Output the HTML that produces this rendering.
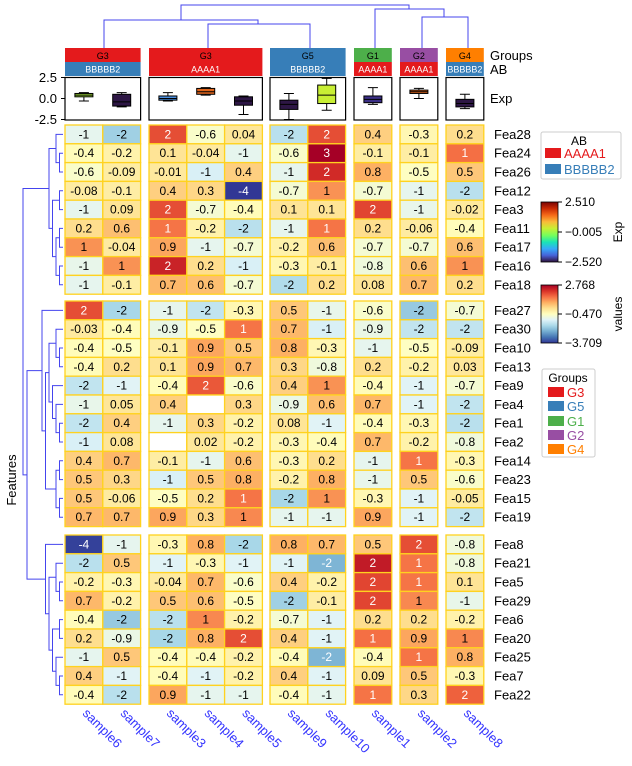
<!DOCTYPE html>
<html><head><meta charset="utf-8"><style>
html,body{margin:0;padding:0;background:#fff;}
svg{display:block;font-family:"Liberation Sans",Arial,sans-serif;}
</style></head><body>
<svg id="chart" width="632" height="766" viewBox="0 0 632 766">
<defs>
<linearGradient id="turbo" x1="0" y1="1" x2="0" y2="0">
<stop offset="0" stop-color="#30123b"/><stop offset="0.11" stop-color="#4662d7"/><stop offset="0.22" stop-color="#36aaf9"/><stop offset="0.33" stop-color="#1ae4b6"/><stop offset="0.44" stop-color="#72fe5e"/><stop offset="0.56" stop-color="#c8ef34"/><stop offset="0.67" stop-color="#faba39"/><stop offset="0.78" stop-color="#f66b19"/><stop offset="0.89" stop-color="#ca2a04"/><stop offset="1" stop-color="#7a0403"/>
</linearGradient>
<linearGradient id="rdylbu" x1="0" y1="1" x2="0" y2="0">
<stop offset="0" stop-color="#313695"/><stop offset="0.1" stop-color="#4575b4"/><stop offset="0.2" stop-color="#74add1"/><stop offset="0.3" stop-color="#abd9e9"/><stop offset="0.4" stop-color="#e0f3f8"/><stop offset="0.5" stop-color="#ffffbf"/><stop offset="0.6" stop-color="#fee090"/><stop offset="0.7" stop-color="#fdae61"/><stop offset="0.8" stop-color="#f46d43"/><stop offset="0.9" stop-color="#d73027"/><stop offset="1" stop-color="#a50026"/>
</linearGradient>
</defs>
<g id="dendro-top" stroke="#4444ee" stroke-width="1" fill="none">
<path d="M181,20 V5 H409 V9"/>
<path d="M104,48 V20 H258 V24"/>
<path d="M208,48 V24 H310 V48"/>
<path d="M375,48 V9 H444 V17"/>
<path d="M422,48 V17 H468 V48"/>
</g>
<g id="annot"></g>
<g id="boxes"></g>
<g id="dendro-left" stroke="#4444ee" stroke-width="1" fill="none"></g>
<g id="heat"></g>
<g id="rowlabels"></g>
<g id="collabels"></g>
<text x="16" y="480" font-size="13" text-anchor="middle" transform="rotate(-90 16 480)">Features</text>
<g>
<rect x="541" y="132" width="80" height="47" fill="#fff" stroke="#ccc" rx="2"/>
<text x="579" y="145" font-size="12" text-anchor="middle">AB</text>
<rect x="545" y="148" width="16" height="10" fill="#e41a1c"/>
<text x="564" y="158" font-size="13" fill="#e41a1c">AAAA1</text>
<rect x="545" y="164" width="16" height="10" fill="#377eb8"/>
<text x="564" y="174" font-size="13" fill="#377eb8">BBBBB2</text>
</g>
<g>
<rect x="541" y="202" width="17" height="60" fill="url(#turbo)" stroke="#000" stroke-width="0.8"/>
<path d="M558,202 h4 M558,232 h4 M558,262 h4" stroke="#000"/>
<text x="565" y="206" font-size="12">2.510</text>
<text x="565" y="236" font-size="12">−0.005</text>
<text x="565" y="266" font-size="12">−2.520</text>
<text x="622" y="232" font-size="12" text-anchor="middle" transform="rotate(-90 622 232)">Exp</text>
</g>
<g>
<rect x="541" y="285" width="17" height="58" fill="url(#rdylbu)" stroke="#000" stroke-width="0.8"/>
<path d="M558,285 h4 M558,314 h4 M558,343 h4" stroke="#000"/>
<text x="565" y="289" font-size="12">2.768</text>
<text x="565" y="318" font-size="12">−0.470</text>
<text x="565" y="347" font-size="12">−3.709</text>
<text x="622" y="314" font-size="12" text-anchor="middle" transform="rotate(-90 622 314)">values</text>
</g>
<g>
<rect x="542" y="369" width="53" height="88" fill="#fff" stroke="#ccc" rx="2"/>
<text x="568" y="382" font-size="12" text-anchor="middle">Groups</text>
<rect x="548" y="387" width="16" height="10" fill="#e41a1c"/><text x="567" y="397" font-size="13" fill="#e41a1c">G3</text>
<rect x="548" y="401" width="16" height="10" fill="#377eb8"/><text x="567" y="411" font-size="13" fill="#377eb8">G5</text>
<rect x="548" y="416" width="16" height="10" fill="#4daf4a"/><text x="567" y="426" font-size="13" fill="#4daf4a">G1</text>
<rect x="548" y="430" width="16" height="10" fill="#984ea3"/><text x="567" y="440" font-size="13" fill="#984ea3">G2</text>
<rect x="548" y="444" width="16" height="10" fill="#ff7f00"/><text x="567" y="454" font-size="13" fill="#ff7f00">G4</text>
</g>
<text x="490" y="60" font-size="13">Groups</text>
<text x="490" y="74" font-size="13">AB</text>
<text x="490" y="103" font-size="13">Exp</text>
</svg>
<script>
const samples = ["sample6","sample7","sample3","sample4","sample5","sample9","sample10","sample1","sample2","sample8"];
const colBlocks = [0,0,1,1,1,2,2,3,4,5];
const groupLabels = ["G3","G3","G5","G1","G2","G4"];
const abLabels = ["BBBBB2","AAAA1","BBBBB2","AAAA1","AAAA1","BBBBB2"];
const rowBlock1 = ["Fea28","Fea24","Fea26","Fea12","Fea3","Fea11","Fea17","Fea16","Fea18"];
const rowBlock2 = ["Fea27","Fea30","Fea10","Fea13","Fea9","Fea4","Fea1","Fea2","Fea14","Fea23","Fea15","Fea19"];
const rowBlock3 = ["Fea8","Fea21","Fea5","Fea29","Fea6","Fea20","Fea25","Fea7","Fea22"];
const values1 = [
[-1,-1.9,1.8,-0.6,0.04,-1.6,1.8,0.4,-0.3,0.2],
[-0.4,-0.2,0.1,-0.04,-1,-0.6,2.8,-0.1,-0.1,1.45],
[-0.6,-0.09,-0.01,-1.2,0.4,-1,2.2,0.8,-0.5,0.5],
[-0.08,-0.1,0.4,0.3,-3.7,-0.7,1.1,-0.7,-1,-1.6],
[-1,0.09,1.8,-0.7,-0.4,0.1,0.1,1.9,-0.96,-0.02],
[0.2,0.6,1.4,-0.2,-1.6,-1,1.4,0.2,-0.06,-0.4],
[1.1,-0.04,0.9,-1.0,-0.7,-0.2,0.6,-0.7,-0.7,0.6],
[-0.96,1.1,2.3,0.2,-1.2,-0.3,-0.1,-0.8,0.6,1.1],
[-1,-0.1,0.7,0.6,-0.7,-1.7,0.2,0.08,0.7,0.2]];
const values2 = [
[1.8,-1.8,-1,-1.5,-0.3,0.5,-0.96,-0.6,-2,-0.7],
[-0.03,-0.4,-0.9,-0.5,1.4,0.7,-1.2,-0.9,-1.5,-1.5],
[-0.4,-0.5,-0.1,0.9,0.5,0.8,-0.3,-1.0,-0.5,-0.09],
[-0.4,0.2,0.1,0.9,0.7,0.3,-0.8,0.2,-0.2,0.03],
[-1.5,-1.1,-0.4,1.7,-0.6,0.4,1.1,-0.4,-1.1,-0.7],
[-0.96,0.05,0.4,null,0.3,-0.9,0.6,0.7,-1.1,-1.5],
[-1.5,0.4,-1,0.3,-0.2,0.08,-1.1,-0.4,-0.3,-1.6],
[-1.2,0.08,null,0.02,-0.2,-0.3,-0.4,0.7,-0.2,-0.8],
[0.4,0.7,-0.1,-1,0.6,-0.3,0.2,-1,1.4,-0.3],
[0.5,0.3,-1.2,0.5,0.8,-0.2,0.8,-0.96,0.5,-0.6],
[0.5,-0.06,-0.5,0.2,1.4,-1.8,1.1,-0.3,-1.1,-0.05],
[0.7,0.7,0.9,0.3,1.2,-1,-1,0.9,-1.1,-1.5]];
const values3 = [
[-3.6,-1,-0.3,0.8,-1.8,0.8,0.7,0.5,1.8,-0.8],
[-1.6,0.5,-1.1,-0.3,-1.1,-1.1,-2.3,2.4,1.4,-0.8],
[-0.2,-0.3,-0.04,0.7,-0.6,0.4,-0.2,1.9,1.4,0.1],
[0.7,-0.2,0.5,0.6,-0.5,-1.9,-0.1,1.9,1.2,-0.96],
[-0.4,-2,-1.6,1.2,-0.2,-0.7,-1.1,0.2,0.2,-0.2],
[0.2,-0.9,-1.8,0.8,1.8,0.4,-1.1,1.45,0.9,1.2],
[-1,0.5,-0.4,-0.4,-0.2,-0.4,-2.3,-0.4,1.4,0.8],
[0.4,-1.1,-0.4,-1.1,-0.2,0.4,-1.1,0.09,0.5,-0.3],
[-0.4,-1.6,0.9,-1.0,-1.0,-0.4,-1,1.4,0.3,1.6]];
// boxplot stats per sample: [min, q1, median, q3, max]
const expMin = [-0.3,-1.0,-0.3,0.4,-1.9,-2.5,-1.4,-0.7,0.0,-1.2];
const expQ1 = [0.2,-0.9,-0.2,0.5,-0.8,-1.3,-0.6,-0.5,0.6,-1.0];
const expMed = [0.4,-0.4,0.0,0.8,-0.3,-0.7,0.4,-0.1,0.8,-0.6];
const expQ3 = [0.6,0.5,0.3,1.2,0.2,-0.2,1.6,0.3,1.0,-0.1];
const expMax = [0.7,0.7,0.7,1.3,0.3,0.6,2.4,1.3,1.2,0.5];
const expColor = ["#a4e03a","#2d1645","#4a8fe0","#e0651c","#2d1645","#2d1645","#c8ef34","#3b2f86","#e0651c","#2d1645"];
const yTicks = [2.5,0.0,-2.5];

const NS="http://www.w3.org/2000/svg";
function mk(tag,attrs,parent){const e=document.createElementNS(NS,tag);for(const k in attrs)e.setAttribute(k,attrs[k]);parent.appendChild(e);return e;}
const blockLeft=[65,149,270,354,400,446];
const CW=37.8, RH=18.8;
const blockCols=[[0,1],[2,3,4],[5,6],[7],[8],[9]];
function colX(c){const b=colBlocks[c];return blockLeft[b]+CW*blockCols[b].indexOf(c);}
const VMIN=-3.709,VMAX=2.768;
const stops=["#313695","#4575b4","#74add1","#abd9e9","#e0f3f8","#ffffbf","#fee090","#fdae61","#f46d43","#d73027","#a50026"];
function hex(h){return[parseInt(h.slice(1,3),16),parseInt(h.slice(3,5),16),parseInt(h.slice(5,7),16)];}
function cmap(v){let t=(v-VMIN)/(VMAX-VMIN);t=Math.max(0,Math.min(1,t));const p=t*10,i=Math.min(9,Math.floor(p)),f=p-i;const a=hex(stops[i]),b=hex(stops[i+1]);return"rgb("+a.map((x,k)=>Math.round(x+(b[k]-x)*f)).join(",")+")";}
function fmt(v){return Number(v.toPrecision(1)).toString();}

const annot=document.getElementById('annot');
const gCol={G3:"#e41a1c",G5:"#377eb8",G1:"#4daf4a",G2:"#984ea3",G4:"#ff7f00"};
const abCol={AAAA1:"#e41a1c",BBBBB2:"#377eb8"};
for(let b=0;b<6;b++){
  const x=blockLeft[b],w=CW*blockCols[b].length,cx=x+w/2;
  const r1=mk('rect',{x:x,y:48,width:w,height:14,fill:gCol[groupLabels[b]]},annot);
  
  
  const t1=mk('text',{x:cx,y:59,'font-size':9,'text-anchor':'middle',fill:'#000'},annot);t1.textContent=groupLabels[b];
  const r2=mk('rect',{x:x,y:62,width:w,height:14,fill:abCol[abLabels[b]]},annot);
  
  
  const t2=mk('text',{x:cx,y:72.5,'font-size':9,'text-anchor':'middle',fill:'#fff'},annot);t2.textContent=abLabels[b];
}
const boxes=document.getElementById('boxes');
const Y0=98.5,K=8.4;
function ey(v){return Y0-v*K;}
for(let b=0;b<6;b++){
  const fr=mk('rect',{x:blockLeft[b],y:77.5,width:CW*blockCols[b].length,height:42.5,fill:'#fff',stroke:'#000','stroke-width':1.2},boxes);
  
  
}
for(let c=0;c<10;c++){
  const cx=colX(c)+CW/2,w=18;
  mk('path',{d:`M${cx},${ey(expMax[c])}V${ey(expQ3[c])}M${cx},${ey(expQ1[c])}V${ey(expMin[c])}M${cx-5},${ey(expMax[c])}h10M${cx-5},${ey(expMin[c])}h10`,stroke:'#000','stroke-width':1,fill:'none'},boxes);
  const bx=mk('rect',{x:cx-w/2,y:ey(expQ3[c]),width:w,height:ey(expQ1[c])-ey(expQ3[c]),fill:expColor[c],stroke:'#000','stroke-width':1},boxes);
  
  
  mk('path',{d:`M${cx-w/2},${ey(expMed[c])}h${w}`,stroke:'#000','stroke-width':1},boxes);
}
yTicks.forEach(v=>{
  mk('path',{d:`M61,${ey(v)}h4`,stroke:'#000'},boxes);
  const t=mk('text',{x:57,y:ey(v)+4.5,'font-size':13,'text-anchor':'end'},boxes);
  
  
  t.textContent=v.toFixed(1);
});
const heat=document.getElementById('heat'),rl=document.getElementById('rowlabels');
const rowBlocks=[rowBlock1,rowBlock2,rowBlock3],valBlocks=[values1,values2,values3],rowTop=[125,301,535];
rowBlocks.forEach((rows,bi)=>{
  rows.forEach((name,ri)=>{
    const y=rowTop[bi]+ri*RH;
    for(let c=0;c<10;c++){
      const v=valBlocks[bi][ri][c],x=colX(c);
      const r=mk('rect',{x:x,y:y,width:CW,height:RH,fill:v===null?'#fff':cmap(v),stroke:'#ffd21f','stroke-width':1.3},heat);
      
      
      if(v!==null){
        const tt=(v-VMIN)/(VMAX-VMIN);
        const t=mk('text',{x:x+CW/2,y:y+RH/2+4,'font-size':12,'text-anchor':'middle',fill:(tt>0.785||tt<0.23)?'#fff':'#000'},heat);
        t.textContent=fmt(v);
      }
    }
    const lt=mk('text',{x:494,y:y+RH/2+4.5,'font-size':13},rl);
    
    
    lt.textContent=name;
  });
});
const cl=document.getElementById('collabels');
samples.forEach((s,c)=>{
  const x=colX(c)+CW/2-2,y=714;
  const t=mk('text',{x:x,y:y,'font-size':13,fill:'#3333ff',transform:`rotate(45 ${x} ${y})`},cl);
  
  
  t.textContent=s;
});
const dl=document.getElementById('dendro-left');
const tree1=[[0,[1,2]],[[3,4],[[5,6],[7,8]]]];
const tree2=[0,[[[1,[2,3]],[4,[5,[6,7]]]],[[8,9],[10,11]]]];
const tree3=[0,[[1,[2,3]],[[4,5],[6,[7,8]]]]];
function draw(node,top){
  if(typeof node==='number')return{x:63,y:top+node*RH+RH/2,h:0};
  const a=draw(node[0],top),b=draw(node[1],top);
  const h=Math.max(a.h,b.h)+1,x=Math.min(63-h*3.5,Math.min(a.x,b.x)-3);
  mk('path',{d:`M${a.x},${a.y}H${x}V${b.y}H${b.x}`},dl);
  return{x:x,y:(a.y+b.y)/2,h:h};
}
const n1=draw(tree1,rowTop[0]),n2=draw(tree2,rowTop[1]),n3=draw(tree3,rowTop[2]);
const m23=(n2.y+n3.y)/2;
mk('path',{d:`M${n2.x},${n2.y}H27V${n3.y}H${n3.x}`},dl);
mk('path',{d:`M${n1.x},${n1.y}H23V${m23}H27`},dl);
</script>
</body></html>
